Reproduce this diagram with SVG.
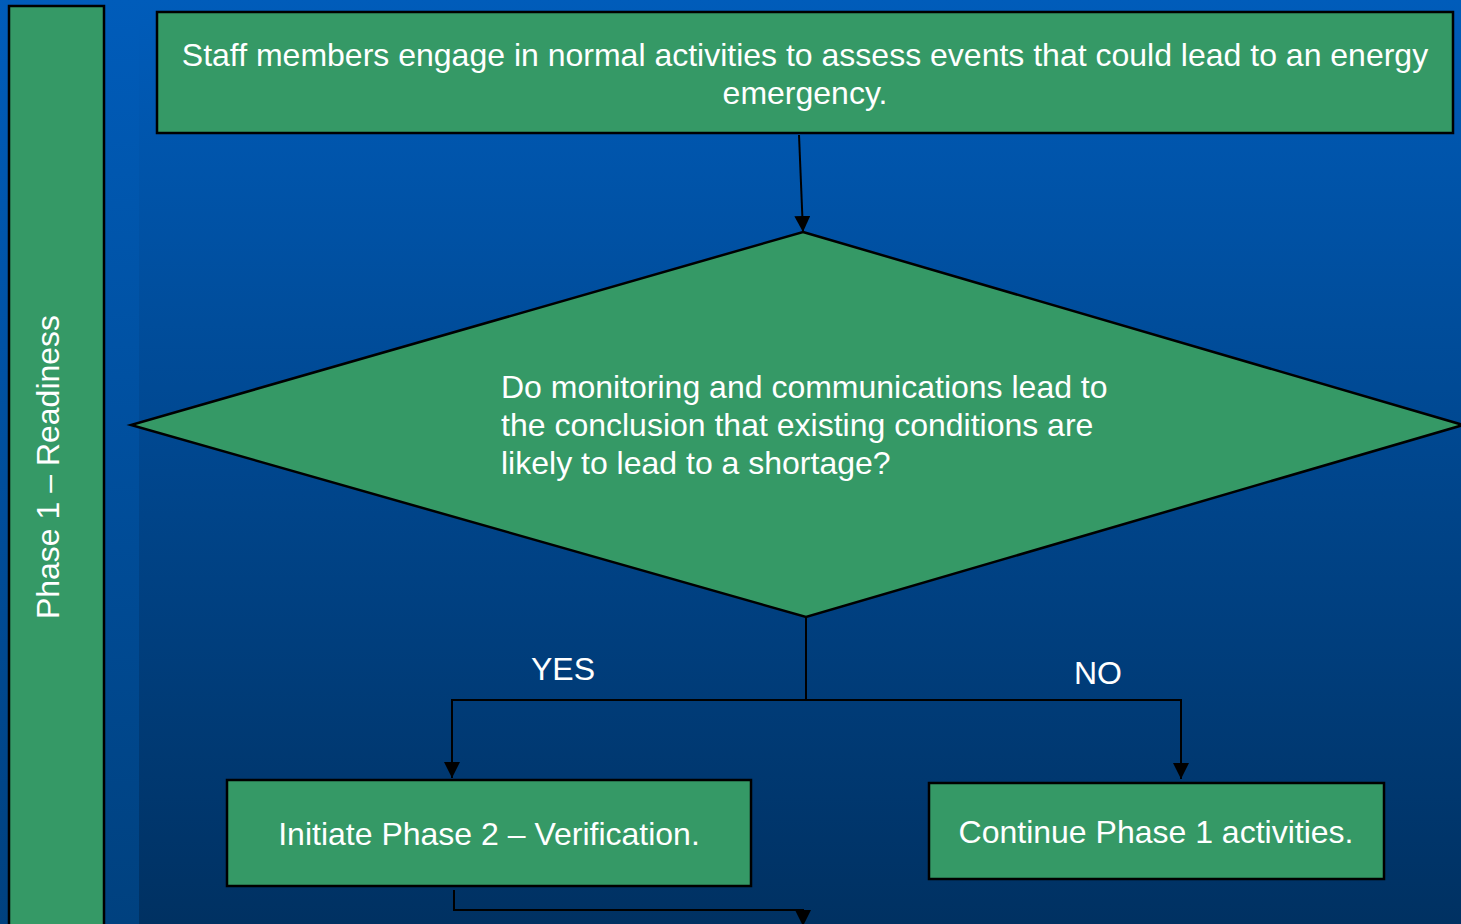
<svg xmlns="http://www.w3.org/2000/svg" width="1461" height="924" viewBox="0 0 1461 924">
<defs>
<linearGradient id="bgMain" x1="0" y1="0" x2="0" y2="1">
<stop offset="0" stop-color="#005CBA"/>
<stop offset="1" stop-color="#003162"/>
</linearGradient>
<linearGradient id="bgLeft" x1="0" y1="0" x2="0" y2="1">
<stop offset="0" stop-color="#005CBA"/>
<stop offset="1" stop-color="#00417F"/>
</linearGradient>
<marker id="arr" viewBox="0 0 10 10" refX="10" refY="5" markerWidth="16" markerHeight="16" markerUnits="userSpaceOnUse" orient="auto">
<path d="M0,0 L10,5 L0,10 z" fill="#000"/>
</marker>
<style>
.box{fill:#359966;stroke:#000;stroke-width:2.5}
.t{font-family:"Liberation Sans",Arial,sans-serif;fill:#fff;font-size:32px}
.c{fill:none;stroke:#000;stroke-width:2}
</style>
</defs>
<rect x="0" y="0" width="1461" height="924" fill="url(#bgMain)"/>
<rect x="0" y="0" width="139" height="924" fill="url(#bgLeft)"/>
<g id="phase-band">
<rect class="box" x="9" y="6" width="95" height="930" stroke-width="3"/>
<text class="t" text-anchor="middle" transform="translate(59,467) rotate(-90)">Phase 1 – Readiness</text>
</g>
<g id="start">
<rect class="box" x="157" y="12" width="1296" height="121"/>
<text class="t" text-anchor="middle"><tspan x="805" y="66">Staff members engage in normal activities to assess events that could lead to an energy</tspan><tspan x="805" y="104">emergency.</tspan></text>
</g>
<g id="decision">
<polygon class="box" points="803,232 1463,425 806,617 131,425"/>
<text class="t"><tspan x="501" y="398">Do monitoring and communications lead to</tspan><tspan x="501" y="436">the conclusion that existing conditions are</tspan><tspan x="501" y="474">likely to lead to a shortage?</tspan></text>
</g>
<g id="yes-box">
<rect class="box" x="227" y="780" width="524" height="106"/>
<text class="t" text-anchor="middle" x="489" y="845">Initiate Phase 2 – Verification.</text>
</g>
<g id="no-box">
<rect class="box" x="929" y="783" width="455" height="96"/>
<text class="t" text-anchor="middle" x="1156" y="843">Continue Phase 1 activities.</text>
</g>
<g id="connectors">
<path class="c" d="M799,135 L803,232" marker-end="url(#arr)"/>
<path class="c" d="M806,617 L806,700"/>
<path class="c" d="M806,700 L452,700 L452,778" marker-end="url(#arr)"/>
<path class="c" d="M806,700 L1181,700 L1181,779" marker-end="url(#arr)"/>
<path class="c" d="M454,890 L454,910 L803,910 L803,926" marker-end="url(#arr)"/>
<text class="t" x="531" y="680">YES</text>
<text class="t" x="1074" y="684">NO</text>
</g>
</svg>
